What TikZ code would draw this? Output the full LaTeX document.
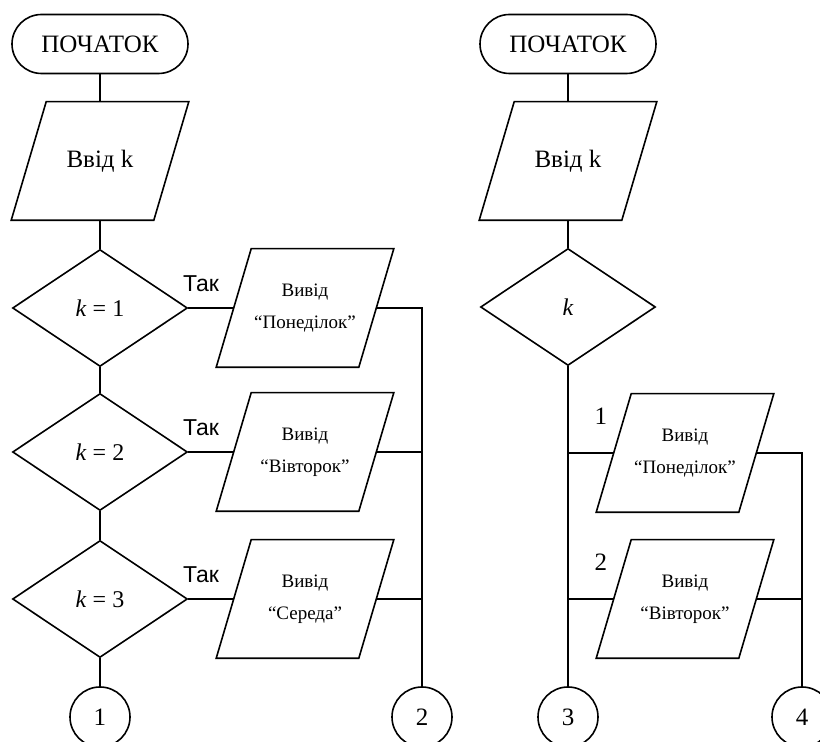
\documentclass[tikz,border=0pt]{standalone}
\usepackage{fontspec}
\setmainfont{Liberation Serif}
\newfontfamily\yesfont{Liberation Sans}
\usetikzlibrary{shapes,positioning,calc}

\begin{document}
\begin{tikzpicture}[x=0.5pt,y=-0.5pt,line width=0.8pt,
  term/.style={draw,rectangle,rounded corners=14.75pt,minimum width=88pt,
    minimum height=29.5pt,font=\fontsize{12.5}{14}\selectfont},
  io/.style={rectangle,minimum width=70.5pt,minimum height=58.5pt,
    inner sep=0pt,align=center,font=\fontsize{12.5}{14}\selectfont},
  outbox/.style={io,font=\fontsize{9.5}{16}\selectfont},
  dec/.style={draw,diamond,minimum width=87.5pt,minimum height=58.5pt,
    inner sep=0pt,font=\fontsize{12}{14}\selectfont},
  conn/.style={draw,circle,minimum size=30pt,inner sep=0pt,
    font=\fontsize{12.5}{14}\selectfont},
  yes/.style={font=\yesfont\fontsize{11.5}{13}\selectfont,inner sep=0pt},
  num/.style={font=\fontsize{12.5}{14}\selectfont,inner sep=0pt}]
\useasboundingbox (0,0) rectangle (820,742);
\clip (0,0) rectangle (820,742);

% if-chain
\node[term] (t1) at (100,44) {ПОЧАТОК};
\node[io] (in1) at (100,161) {Ввід k};
\node[dec] (d1) at (100,308) {\textit{k} = 1};
\node[dec] (d2) at (100,452) {\textit{k} = 2};
\node[dec] (d3) at (100,599) {\textit{k} = 3};
\node[conn] (c1) at (100,717) {1};
\node[outbox] (o1) at (305,308) {Вивід\\“Понеділок”};
\node[outbox] (o2) at (305,452) {Вивід\\“Вівторок”};
\node[outbox] (o3) at (305,599) {Вивід\\“Середа”};
\node[conn] (c2) at (422,717) {2};
\draw (t1) -- (in1);
\draw (in1) -- (d1);
\draw (d1) -- (d2);
\draw (d2) -- (d3);
\draw (d3) -- (c1);
\draw (d1.east) -- node[yes,above=7.5pt,xshift=-5pt] {Так} (o1.west);
\draw (d2.east) -- node[yes,above=7.5pt,xshift=-5pt] {Так} (o2.west);
\draw (d3.east) -- node[yes,above=7.5pt,xshift=-5pt] {Так} (o3.west);
\draw (o1.east) -| (c2);
\draw (o2.east) -- (o2.east -| c2);
\draw (o3.east) -- (o3.east -| c2);

% switch
\node[term] (t2) at (568,44) {ПОЧАТОК};
\node[io] (in2) at (568,161) {Ввід k};
\node[dec] (d4) at (568,307) {\textit{k}};
\node[outbox] (o4) at (685,453) {Вивід\\“Понеділок”};
\node[outbox] (o5) at (685,599) {Вивід\\“Вівторок”};
\node[conn] (c3) at (568,717) {3};
\node[conn] (c4) at (802,717) {4};
\draw (t2) -- (in2);
\draw (in2) -- (d4);
\draw (d4) -- (c3);
\draw (o4.west -| d4) -- node[num,pos=0.72,above=14pt] {1} (o4.west);
\draw (o5.west -| d4) -- node[num,pos=0.72,above=14pt] {2} (o5.west);
\draw (o4.east) -| (c4);
\draw (o5.east) -- (o5.east -| c4);

% slanted input/output boxes
\foreach \n in {in1,o1,o2,o3,in2,o4,o5}
  \draw ($(\n.south west)+(-8.75pt,0)$) -- ($(\n.north west)+(8.75pt,0)$)
     -- ($(\n.north east)+(8.75pt,0)$) -- ($(\n.south east)+(-8.75pt,0)$) -- cycle;
\end{tikzpicture}
\end{document}
